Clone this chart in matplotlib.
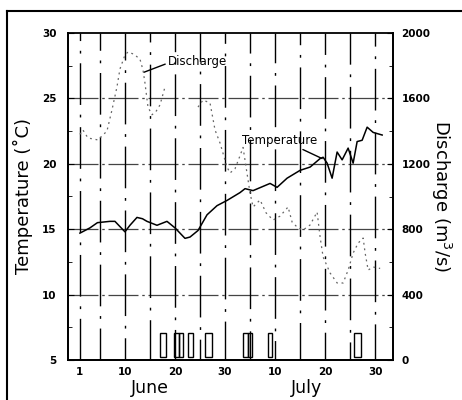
import numpy as np
import matplotlib
matplotlib.use('Agg')
import matplotlib.pyplot as plt
from matplotlib.lines import Line2D
from matplotlib.patches import Rectangle

# day index: June 1 = 1 ... July 1 = 31
temp_day = [1, 3, 4.5, 7, 8, 9, 10, 11, 12.4, 13.5, 14.4, 16.4, 18.4, 20, 22, 23, 24.6,
            26.4, 28.4, 30.4, 33, 34, 35.6, 39, 40.4, 42.4, 45, 47, 49, 49.6, 50.4, 51.4,
            52.4, 53.4, 54.6, 55.6, 56.4, 57.4, 58.4, 59.6, 61.4]
temp_val = [14.7, 15.1, 15.5, 15.6, 15.6, 15.2, 14.8, 15.3, 15.9, 15.8, 15.6, 15.3, 15.6,
            15.1, 14.3, 14.4, 14.9, 16.1, 16.8, 17.2, 17.8, 18.1, 17.95, 18.5, 18.2, 18.9,
            19.5, 19.75, 20.4, 20.5, 20.05, 18.9, 20.9, 20.3, 21.2, 20.05, 21.7, 21.8,
            22.8, 22.4, 22.2]

# gap (nan) where the trace is missing in the original
dis_day = [1, 1.6, 2.6, 4.6, 6.4, 7.4, 8.4, 9, 10, 10.6, 11.8, 13, 13.6, 14, 14.6, 15.4,
           16.2, 17, 18, 21, 24.6, 25.6, 27, 28, 29, 30.4, 31, 32, 33, 33.6, 35, 35.6, 37,
           38.2, 39.6, 41, 42.6, 43.4, 44.6, 45.6, 47, 48.4, 49, 49.6, 51, 52.4, 53.6,
           54.6, 55.6, 56.6, 57.6, 58, 58.6, 59.6, 61]
dis_val = [1380, 1407, 1358, 1346, 1400, 1529, 1670, 1780, 1865, 1884, 1870, 1840, 1774,
           1694, 1547, 1500, 1520, 1560, 1670, np.nan, 1547, 1590, 1572, 1407, 1327, 1180,
           1144, 1170, 1250, 1300, 1021, 936, 979, 900, 856, 880, 936, 844, 807, 795, 826,
           905, 752, 630, 532, 471, 471, 550, 654, 715, 746, 654, 550, 569, 560]

event_start = [17.0, 19.8, 20.8, 22.6, 26.0, 33.6, 34.6, 38.6, 55.8]
event_end = [18.2, 20.8, 21.6, 23.6, 27.4, 34.6, 35.4, 39.4, 57.2]

xtick_days = [1, 10, 20, 30, 40, 50, 60]
xtick_labels = ['1', '10', '20', '30', '10', '20', '30']
vline_days = [1, 5, 10, 15, 20, 25, 30, 35, 40, 45, 50, 55, 60]

plt.rcParams['font.family'] = ['DejaVu Sans']

fig = plt.figure(figsize=(4.62, 4.0), dpi=100)
ax = fig.add_axes([0.147, 0.10, 0.704, 0.8175])
ax2 = ax.twinx()

ax.set_xlim(-1.4, 63.6)
ax.set_ylim(5, 30)
ax2.set_ylim(0, 2000)

# grid
for t in [10, 15, 20, 25]:
    ax.axhline(t, color='#444444', lw=0.9, ls=(0, (24, 3, 2, 3)), zorder=1)
for i, d in enumerate(vline_days):
    ax.axvline(d, color='black', lw=1.0, ls=(i * 7 % 20, (30, 7, 2, 7)), zorder=1)

ax.plot(temp_day, temp_val, color='black', lw=1.1, zorder=4)
ax2.plot(dis_day, dis_val, color='#666666', lw=0.9, ls=(0, (1.5, 3)), zorder=3)

for s, e in zip(event_start, event_end):
    ax.add_patch(Rectangle((s, 5.2), e - s, 1.9, fill=False, ec='black', lw=1.0, zorder=5))

ax.set_xticks(xtick_days)
ax.set_xticklabels(xtick_labels, fontsize=7.5, fontweight='bold')
ax.tick_params(axis='x', length=0, pad=5)

ax.set_yticks([5, 10, 15, 20, 25, 30])
ax.set_yticks(np.arange(5, 30, 2.5), minor=True)
ax.tick_params(axis='y', direction='in', length=4, labelsize=7.5, pad=8)
ax.tick_params(axis='y', which='minor', direction='in', length=3)
for lab in ax.get_yticklabels():
    lab.set_fontweight('bold')

ax2.set_yticks([0, 400, 800, 1200, 1600, 2000])
ax2.set_yticks(np.arange(0, 2000, 200), minor=True)
ax2.tick_params(axis='y', direction='in', length=4, labelsize=7.5, pad=6)
ax2.tick_params(axis='y', which='minor', direction='in', length=3)
for lab in ax2.get_yticklabels():
    lab.set_fontweight('bold')

for a in (ax, ax2):
    for sp in a.spines.values():
        sp.set_linewidth(1.3)
ax2.spines['top'].set_visible(False)

ax.set_ylabel('Temperature (˚C)', fontsize=13, labelpad=7)
ax2.set_ylabel('Discharge (m$^3$/s)', fontsize=13, rotation=270, labelpad=16)

fig.text(150 / 462, 1 - 388 / 400, 'June', fontsize=12.5, ha='center', va='center')
fig.text(306 / 462, 1 - 388 / 400, 'July', fontsize=12.5, ha='center', va='center')

ax.annotate('Discharge', xy=(13.8, 27.0), xytext=(18.6, 27.8), fontsize=8.5,
            ha='left', va='center',
            arrowprops=dict(arrowstyle='-', color='black', lw=1.0, shrinkA=0, shrinkB=0,
                            relpos=(0.0, 0.4)))
ax.annotate('Temperature', xy=(49.4, 20.4), xytext=(33.4, 21.8), fontsize=8.5,
            ha='left', va='center',
            arrowprops=dict(arrowstyle='-', color='black', lw=1.0, shrinkA=0, shrinkB=0,
                            relpos=(0.73, 0.0)))

# outer frame (top and left edges visible)
fig.add_artist(Line2D([7 / 462, 1.0], [1 - 11 / 400, 1 - 11 / 400], color='black', lw=1.5))
fig.add_artist(Line2D([7 / 462, 7 / 462], [0.0, 1 - 11 / 400], color='black', lw=1.5))

fig.savefig('out.png', dpi=100)
